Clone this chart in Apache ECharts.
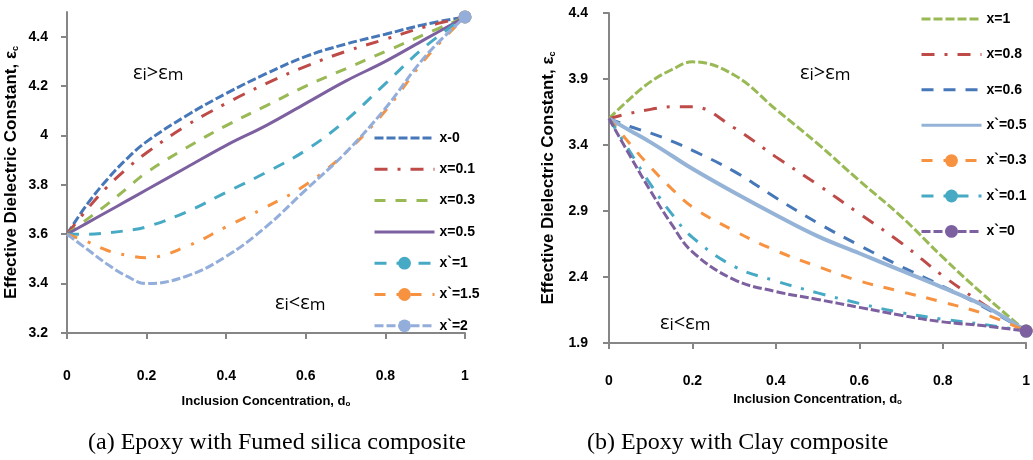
<!DOCTYPE html>
<html>
<head>
<meta charset="utf-8">
<script src="https://cdn.jsdelivr.net/npm/echarts@6/dist/echarts.min.js"></script>
<style>
  html, body { margin: 0; padding: 0; background: #fff; }
  #chart-container { width: 1033px; height: 460px; }
</style>
</head>
<body>
<div id="chart-container"></div>
<script>
var dom = document.getElementById('chart-container');
var myChart = echarts.init(dom, null, { renderer: 'canvas' });

// inclusion concentration (x positions of the read points)
var conc = [0, 0.05, 0.1, 0.15, 0.2, 0.3, 0.4, 0.5, 0.6, 0.7, 0.8, 0.9, 1];

// (a) Epoxy with Fumed silica
var silicaX0   = [3.6, 3.72, 3.82, 3.905, 3.975, 4.08, 4.17, 4.25, 4.32, 4.37, 4.41, 4.45, 4.48];
var silicaX01  = [3.6, 3.70, 3.79, 3.865, 3.93, 4.04, 4.13, 4.21, 4.28, 4.34, 4.39, 4.44, 4.48];
var silicaX03  = [3.6, 3.66, 3.72, 3.785, 3.85, 3.95, 4.04, 4.12, 4.20, 4.27, 4.34, 4.41, 4.48];
var silicaX05  = [3.6, 3.645, 3.69, 3.735, 3.78, 3.87, 3.96, 4.04, 4.13, 4.22, 4.30, 4.39, 4.48];
var silicaXp1  = [3.6, 3.60, 3.605, 3.615, 3.63, 3.69, 3.77, 3.85, 3.94, 4.06, 4.21, 4.36, 4.48];
var silicaXp15 = [3.6, 3.57, 3.535, 3.515, 3.505, 3.55, 3.63, 3.71, 3.80, 3.93, 4.10, 4.31, 4.48];
var silicaXp2  = [3.6, 3.54, 3.48, 3.43, 3.40, 3.43, 3.51, 3.63, 3.78, 3.93, 4.11, 4.32, 4.48];

// (b) Epoxy with Clay
var clayX1    = [3.6, 3.75, 3.88, 3.97, 4.03, 3.93, 3.67, 3.41, 3.13, 2.86, 2.55, 2.26, 1.99];
var clayX08   = [3.6, 3.64, 3.67, 3.69, 3.69, 3.53, 3.31, 3.10, 2.88, 2.66, 2.41, 2.19, 1.99];
var clayX06   = [3.6, 3.54, 3.49, 3.43, 3.36, 3.20, 3.00, 2.81, 2.64, 2.48, 2.33, 2.17, 1.99];
var clayXp05  = [3.6, 3.51, 3.42, 3.32, 3.22, 3.04, 2.87, 2.71, 2.58, 2.45, 2.32, 2.18, 1.99];
var clayXp03  = [3.6, 3.41, 3.23, 3.07, 2.93, 2.75, 2.60, 2.48, 2.37, 2.29, 2.21, 2.12, 1.99];
var clayXp01  = [3.6, 3.35, 3.10, 2.88, 2.70, 2.48, 2.37, 2.28, 2.20, 2.13, 2.08, 2.04, 1.99];
var clayXp0   = [3.6, 3.32, 3.05, 2.80, 2.59, 2.38, 2.29, 2.23, 2.17, 2.11, 2.06, 2.03, 1.99];

// tick labels
var xTicks = [0, 0.2, 0.4, 0.6, 0.8, 1];
var yTicksA = [3.2, 3.4, 3.6, 3.8, 4, 4.2, 4.4];
var yTicksB = [1.9, 2.4, 2.9, 3.4, 3.9, 4.4];

var narrow = "'Liberation Sans Narrow', 'Arial Narrow', 'Liberation Sans', sans-serif";
var axisGray = '#868686';

function pairs(vals) {
  return vals.map(function (v, i) { return [conc[i], v]; });
}

function line(name, vals, color, dash, width, idx, marker) {
  var last = vals.length - 1;
  return {
    name: name,
    type: 'line',
    xAxisIndex: idx,
    yAxisIndex: idx,
    smooth: 0.4,
    symbol: 'circle',
    symbolSize: function (v, p) { return marker && p.dataIndex === last ? 13 : 0; },
    showSymbol: true,
    itemStyle: { color: color },
    lineStyle: { color: color, width: width, type: dash },
    emphasis: { disabled: true },
    data: pairs(vals)
  };
}

function legendItem(name, marker) {
  return marker ? { name: name } : { name: name, itemStyle: { opacity: 0 } };
}

function xAxis(idx) {
  return {
    type: 'value', gridIndex: idx, min: 0, max: 1,
    name: 'Inclusion Concentration, d{s|o}',
    nameLocation: 'middle',
    nameGap: idx === 0 ? 62 : 50,
    nameTextStyle: {
      fontFamily: narrow, fontWeight: 'bold', fontSize: 13, color: '#000',
      rich: { s: { fontFamily: narrow, fontWeight: 'bold', fontSize: 8, verticalAlign: 'bottom', lineHeight: 12 } }
    },
    axisLine: { lineStyle: { color: axisGray, width: 2 } },
    axisTick: { inside: false, length: 6, lineStyle: { color: axisGray, width: 2 }, customValues: xTicks },
    axisLabel: {
      customValues: xTicks, margin: idx === 0 ? 36 : 31,
      fontFamily: narrow, fontWeight: 'bold', fontSize: 14, color: '#000'
    },
    splitLine: { show: false }
  };
}

function yAxis(idx, min, max, ticks) {
  return {
    type: 'value', gridIndex: idx, min: min, max: max,
    name: 'Effective Dielectric Constant, ε{s|c}',
    nameLocation: 'middle',
    nameRotate: 90,
    nameGap: idx === 0 ? 47 : 52,
    nameTextStyle: {
      fontFamily: narrow, fontWeight: 'bold', fontSize: 17, color: '#000',
      rich: { s: { fontFamily: narrow, fontWeight: 'bold', fontSize: 9, verticalAlign: 'bottom', lineHeight: 15 } }
    },
    axisLine: { show: true, lineStyle: { color: axisGray, width: 2 } },
    axisTick: { show: true, inside: false, length: 6, lineStyle: { color: axisGray, width: 2 }, customValues: ticks },
    axisLabel: {
      customValues: ticks, margin: idx === 0 ? 19 : 21,
      fontFamily: narrow, fontWeight: 'bold', fontSize: 14, color: '#000'
    },
    splitLine: { show: false }
  };
}

function epsText(x, y, rel) {
  return {
    type: 'text', left: x, top: y, silent: true,
    style: {
      text: 'ε{s|i}' + rel + 'ε{s|m}',
      fontFamily: "'Open Sans', 'Noto Sans', sans-serif",
      fontSize: 20, fill: '#000', lineHeight: 22,
      rich: { s: { fontFamily: "'Open Sans', 'Noto Sans', sans-serif", fontSize: 17, fill: '#000', verticalAlign: 'bottom', lineHeight: 16 } }
    }
  };
}

var blue = '#4677B8', red = '#BE4B48', green = '#98B954', purple = '#7D60A0',
    aqua = '#46AAC5', orange = '#F69240', light = '#93AEDA';

var seriesA = [
  line('x-0', silicaX0, blue, [9, 3], 3, 0, false),
  line('x=0.1', silicaX01, red, [13, 10, 3, 10], 3, 0, false),
  line('x=0.3', silicaX03, green, [11, 10], 3, 0, false),
  line('x=0.5', silicaX05, purple, 'solid', 3, 0, false),
  line('x`=1', silicaXp1, aqua, [12, 10], 3, 0, true),
  line('x`=1.5', silicaXp15, orange, [11, 11, 3, 11], 3, 0, true),
  line('x`=2', silicaXp2, light, [9, 3], 3, 0, true)
];
var seriesB = [
  line('x=1', clayX1, green, [9, 3], 3, 1, false),
  line('x=0.8', clayX08, red, [13, 10, 3, 10], 3, 1, false),
  line('x=0.6', clayX06, blue, [12, 10], 3, 1, false),
  line('x`=0.5', clayXp05, '#95B3D7', 'solid', 4, 1, false),
  line('x`=0.3', clayXp03, orange, [11, 11], 3, 1, true),
  line('x`=0.1', clayXp01, aqua, [12, 10, 3, 10], 3, 1, true),
  line('x`=0', clayXp0, purple, [9, 3], 3, 1, true)
];

var legendText = { fontFamily: narrow, fontWeight: 'bold', fontSize: 14, color: '#000', lineHeight: 16 };

var option = {
  animation: false,
  grid: [
    { left: 67, top: 12, width: 398, height: 321 },
    { left: 609, top: 13, width: 418, height: 330 }
  ],
  xAxis: [xAxis(0), xAxis(1)],
  yAxis: [yAxis(0, 3.2, 4.5, yTicksA), yAxis(1, 1.9, 4.4, yTicksB)],
  legend: [
    {
      orient: 'vertical', left: 368, top: 125,
      itemWidth: 60, itemHeight: 16, itemGap: 15.3, itemTextGap: 3,
      lineStyle: { width: 3 },
      textStyle: legendText, selectedMode: false,
      data: seriesA.map(function (s, i) { return legendItem(s.name, i >= 4); })
    },
    {
      orient: 'vertical', left: 915, top: 6,
      itemWidth: 60, itemHeight: 16, itemGap: 19.4, itemTextGap: 3,
      lineStyle: { width: 3 },
      textStyle: legendText, selectedMode: false,
      data: seriesB.map(function (s, i) { return legendItem(s.name, i >= 4); })
    }
  ],
  graphic: [
    epsText(133, 62, '>'),
    epsText(275, 292, '<'),
    epsText(800, 62, '>'),
    epsText(660, 312, '<'),
    {
      type: 'text', left: 88, top: 431, silent: true,
      style: { text: '(a) Epoxy with Fumed silica composite', fontFamily: "'Liberation Serif', 'Times New Roman', serif", fontSize: 24, fill: '#000' }
    },
    {
      type: 'text', left: 587, top: 431, silent: true,
      style: { text: '(b) Epoxy with Clay composite', fontFamily: "'Liberation Serif', 'Times New Roman', serif", fontSize: 24, fill: '#000' }
    }
  ],
  series: seriesA.concat(seriesB)
};

myChart.setOption(option);
window.addEventListener('resize', myChart.resize);
</script>
</body>
</html>
